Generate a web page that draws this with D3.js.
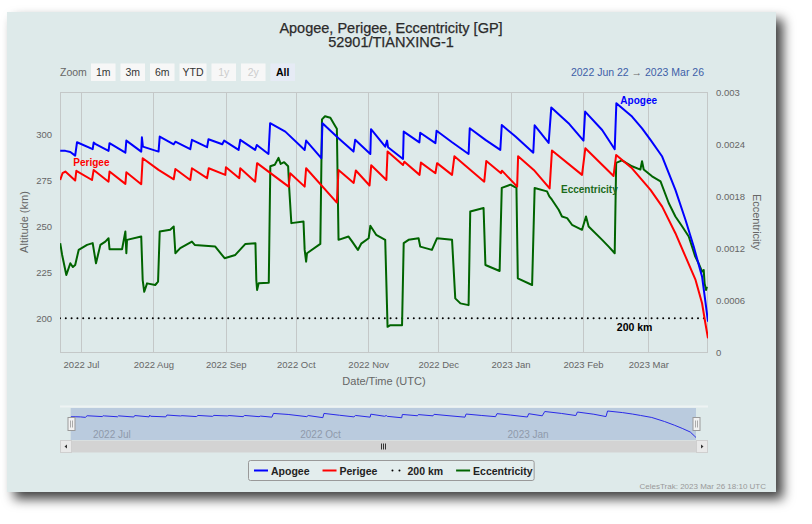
<!DOCTYPE html>
<html>
<head>
<meta charset="utf-8">
<script src="https://cdn.jsdelivr.net/npm/d3@7"></script>
<style>
  body { margin: 0; background: #fff; }
  svg { display: block; font-family: "Liberation Sans", Arial, sans-serif; }
</style>
</head>
<body>
<svg id="chart" width="812" height="524"></svg>
<script>
// ---- data (GP elements, 52901 / TIANXING-1) ----
const titleLines = ["Apogee, Perigee, Eccentricity [GP]", "52901/TIANXING-1"];
const dateRange = ["2022-06-22 00", "2023-03-26 13"];
const zoomButtons = ["1m", "3m", "6m", "YTD", "1y", "2y", "All"];
const disabledButtons = ["1y", "2y"];
const altTicks = [200, 225, 250, 275, 300];
const eccTicks = [0, 0.0006, 0.0012, 0.0018, 0.0024, 0.003];
const limitKm = 200;

// [UTC time "YYYY-MM-DD HH", km]
const apogee = [
  ["2022-06-22 02",291.4],["2022-06-24 07",291.3],["2022-06-26 10",290.7],["2022-06-28 12",288.7],["2022-06-29 07",296.0],
  ["2022-07-06 00",292.2],["2022-07-06 10",295.8],["2022-07-07 02",295.1],["2022-07-12 19",291.3],["2022-07-13 05",295.5],
  ["2022-07-20 00",290.3],["2022-07-20 10",296.9],["2022-07-26 19",290.9],["2022-07-27 02",298.7],["2022-07-27 12",293.6],
  ["2022-08-03 05",290.9],["2022-08-03 17",299.1],["2022-08-09 17",294.9],["2022-08-10 10",296.3],["2022-08-16 19",292.2],
  ["2022-08-17 12",297.3],["2022-08-24 00",293.3],["2022-08-24 14",297.6],["2022-08-30 12",294.9],["2022-08-31 07",296.9],
  ["2022-09-06 12",291.8],["2022-09-07 05",297.3],["2022-09-13 14",291.8],["2022-09-14 07",294.5],["2022-09-19 07",289.6],
  ["2022-09-20 00",306.4],["2022-09-26 12",301.8],["2022-10-04 19",291.8],["2022-10-05 10",296.9],["2022-10-11 22",287.3],
  ["2022-10-12 10",306.4],["2022-10-19 07",298.2],["2022-10-25 17",290.9],["2022-10-26 10",297.3],["2022-11-01 22",289.6],
  ["2022-11-02 05",303.1],["2022-11-08 07",293.6],["2022-11-09 02",296.9],["2022-11-09 12",293.3],["2022-11-15 22",286.9],
  ["2022-11-16 05",301.8],["2022-11-22 22",295.9],["2022-11-23 07",301.2],["2022-11-29 19",295.5],["2022-11-30 07",302.3],
  ["2022-12-06 22",296.0],["2022-12-14 00",289.6],["2022-12-14 12",303.6],["2022-12-21 05",297.3],["2022-12-27 14",291.8],
  ["2022-12-28 05",305.4],["2023-01-03 02",299.1],["2023-01-10 17",290.3],["2023-01-11 07",305.2],["2023-01-17 07",295.6],
  ["2023-01-18 10",315.0],["2023-01-25 19",306.4],["2023-02-01 05",296.9],["2023-02-01 22",312.7],["2023-02-09 05",302.7],
  ["2023-02-14 14",292.2],["2023-02-15 07",317.3],["2023-02-22 00",310.0],["2023-02-26 07",303.6],["2023-03-01 22",297.3],
  ["2023-03-06 22",288.2],["2023-03-12 14",270.0],["2023-03-16 22",253.6],["2023-03-20 10",239.1],["2023-03-24 00",222.7],
  ["2023-03-25 17",206.3],["2023-03-26 13",198.1]
];

const perigee = [
  ["2022-06-22 02",275.4],["2022-06-23 02",279.1],["2022-06-24 07",280.0],["2022-06-28 12",275.1],["2022-06-29 00",280.4],
  ["2022-07-05 17",275.4],["2022-07-06 10",280.9],["2022-07-12 19",274.5],["2022-07-13 05",280.0],["2022-07-20 00",273.3],
  ["2022-07-20 10",279.6],["2022-07-26 19",273.1],["2022-07-27 10",287.3],["2022-08-03 05",280.9],["2022-08-09 17",275.8],
  ["2022-08-10 10",281.4],["2022-08-16 19",275.4],["2022-08-17 12",281.8],["2022-08-24 00",276.4],["2022-08-24 17",281.8],
  ["2022-08-31 19",278.2],["2022-09-01 02",282.4],["2022-09-06 19",276.4],["2022-09-07 05",281.8],["2022-09-13 14",274.5],
  ["2022-09-14 10",284.6],["2022-09-27 22",271.8],["2022-09-28 14",279.1],["2022-10-04 19",271.8],["2022-10-05 10",281.8],
  ["2022-10-18 14",263.1],["2022-10-19 07",280.9],["2022-10-25 19",273.8],["2022-10-26 17",280.6],["2022-11-01 14",272.4],
  ["2022-11-02 07",283.4],["2022-11-08 19",275.4],["2022-11-09 07",290.9],["2022-11-15 22",283.6],["2022-11-16 12",285.4],
  ["2022-11-23 00",278.2],["2022-11-23 14",284.9],["2022-11-29 19",279.1],["2022-11-30 12",284.6],["2022-12-06 22",278.2],
  ["2022-12-07 22",288.3],["2022-12-20 17",274.5],["2022-12-21 14",285.8],["2022-12-27 22",279.1],["2022-12-28 07",280.5],
  ["2023-01-03 19",271.8],["2023-01-04 05",288.3],["2023-01-10 22",280.9],["2023-01-17 17",270.8],["2023-01-18 17",291.5],
  ["2023-01-31 14",278.2],["2023-02-02 00",292.7],["2023-02-14 02",277.6],["2023-02-15 05",289.1],["2023-02-22 00",281.8],
  ["2023-03-01 22",270.0],["2023-03-06 22",260.9],["2023-03-12 14",246.4],["2023-03-16 22",233.6],["2023-03-21 05",220.9],
  ["2023-03-24 00",208.2],["2023-03-25 10",197.3],["2023-03-26 13",189.1]
];

// [UTC time, eccentricity] (right axis)
const eccentricity = [
  ["2022-06-22 02",0.001256],["2022-06-22 22",0.001120],["2022-06-24 17",0.000888],["2022-06-26 10",0.001024],["2022-06-27 12",0.000980],
  ["2022-06-28 12",0.001004],["2022-06-30 00",0.001178],["2022-07-03 14",0.001236],["2022-07-06 00",0.001256],["2022-07-07 10",0.001024],
  ["2022-07-09 07",0.001236],["2022-07-11 10",0.001274],["2022-07-12 19",0.001313],["2022-07-13 05",0.001186],["2022-07-18 14",0.001186],
  ["2022-07-20 00",0.001390],["2022-07-20 10",0.001140],["2022-07-20 17",0.001294],["2022-07-26 19",0.001332],["2022-07-27 10",0.000830],
  ["2022-07-28 02",0.000695],["2022-07-29 07",0.000792],["2022-08-01 19",0.000773],["2022-08-03 00",0.000811],["2022-08-03 17",0.001390],
  ["2022-08-08 05",0.001410],["2022-08-09 17",0.001448],["2022-08-10 10",0.001140],["2022-08-12 12",0.001198],["2022-08-17 12",0.001274],
  ["2022-08-18 17",0.001236],["2022-08-27 12",0.001216],["2022-08-31 12",0.001082],["2022-09-05 02",0.001120],["2022-09-09 10",0.001247],
  ["2022-09-13 17",0.001256],["2022-09-14 02",0.000830],["2022-09-14 10",0.000715],["2022-09-15 02",0.000792],["2022-09-19 10",0.000799],
  ["2022-09-20 02",0.002143],["2022-09-22 00",0.002160],["2022-09-23 14",0.002240],["2022-09-24 12",0.002170],["2022-09-26 00",0.002190],
  ["2022-09-27 17",0.002143],["2022-09-28 05",0.001873],["2022-09-29 02",0.001487],["2022-10-04 07",0.001506],["2022-10-04 19",0.001178],
  ["2022-10-05 10",0.001042],["2022-10-05 19",0.001140],["2022-10-11 12",0.001247],["2022-10-12 05",0.002684],["2022-10-13 12",0.002720],
  ["2022-10-15 19",0.002703],["2022-10-17 22",0.002606],["2022-10-18 14",0.002576],["2022-10-19 07",0.001294],["2022-10-23 14",0.001332],
  ["2022-10-25 00",0.001280],["2022-10-27 14",0.001178],["2022-10-29 00",0.001250],["2022-11-01 05",0.001313],["2022-11-01 22",0.001456],
  ["2022-11-04 10",0.001352],["2022-11-08 07",0.001294],["2022-11-09 07",0.000290],["2022-11-10 12",0.000309],["2022-11-15 12",0.000309],
  ["2022-11-16 05",0.001256],["2022-11-18 07",0.001294],["2022-11-22 14",0.001313],["2022-11-23 07",0.001216],["2022-11-28 07",0.001178],
  ["2022-11-30 12",0.001313],["2022-12-06 22",0.001294],["2022-12-08 07",0.000619],["2022-12-10 12",0.000561],["2022-12-14 00",0.000541],
  ["2022-12-14 17",0.001622],["2022-12-20 10",0.001661],["2022-12-21 05",0.001004],["2022-12-27 07",0.000935],["2022-12-28 05",0.001893],
  ["2022-12-31 22",0.001931],["2023-01-03 12",0.001893],["2023-01-04 02",0.000850],["2023-01-10 05",0.000773],["2023-01-11 07",0.001893],
  ["2023-01-16 14",0.001853],["2023-01-17 14",0.001795],["2023-01-18 17",0.001757],["2023-01-21 14",0.001641],["2023-01-23 00",0.001564],
  ["2023-01-25 05",0.001545],["2023-01-27 07",0.001468],["2023-01-31 14",0.001410],["2023-02-02 07",0.001564],["2023-02-03 10",0.001448],
  ["2023-02-09 05",0.001294],["2023-02-12 00",0.001216],["2023-02-14 14",0.001140],["2023-02-15 05",0.002182],["2023-02-17 17",0.002212],
  ["2023-02-22 00",0.002143],["2023-02-25 14",0.002105],["2023-02-26 07",0.002201],["2023-02-27 00",0.002105],["2023-03-02 14",0.002027],
  ["2023-03-06 05",0.001969],["2023-03-09 17",0.001719],["2023-03-12 14",0.001564],["2023-03-15 12",0.001448],["2023-03-18 07",0.001332],
  ["2023-03-19 17",0.001216],["2023-03-21 02",0.001100],["2023-03-22 12",0.001024],["2023-03-24 00",0.000927],["2023-03-24 17",0.000946],
  ["2023-03-25 02",0.000792],["2023-03-25 17",0.000715],["2023-03-26 02",0.000753]
];

const limitLine = [["2022-06-22 00", limitKm], ["2023-03-25 12", limitKm]];

// series label anchors [time, value]
const labelApogee = ["2023-02-17 00", 316.9];
const labelPerigee = ["2022-06-27 17", 283.3];
const labelEcc = ["2023-01-22 14", 0.001835];
const labelLimit = ["2023-02-15 12", 193.1];

const footer = "CelesTrak: 2023 Mar 26 18:10 UTC";

// ---- setup ----
const parseTime = d3.utcParse("%Y-%m-%d %H");
const toPoints = arr => arr.map(([t, v]) => ({ date: parseTime(t), value: v }));

const apoPts = toPoints(apogee);
const periPts = toPoints(perigee);
const eccPts = toPoints(eccentricity);
const limitPts = toPoints(limitLine);

const colors = { apogee: "#0000ff", perigee: "#ff0000", ecc: "#006400", limit: "#000" };
const plot = { left: 60, right: 708, top: 92, bottom: 352 };
const bg = "#deeaea";

const svg = d3.select("#chart");

const defs = svg.append("defs");
const shadow = defs.append("filter").attr("id", "shadow")
  .attr("x", "-5%").attr("y", "-5%").attr("width", "115%").attr("height", "120%");
shadow.append("feDropShadow")
  .attr("dx", 7).attr("dy", 7).attr("stdDeviation", 6)
  .attr("flood-color", "#000").attr("flood-opacity", 0.75);
defs.append("clipPath").attr("id", "plot-clip")
  .append("rect")
  .attr("x", plot.left).attr("y", plot.top)
  .attr("width", plot.right - plot.left).attr("height", plot.bottom - plot.top);

// card
svg.append("rect")
  .attr("x", 7).attr("y", 12).attr("width", 769).attr("height", 480)
  .attr("fill", bg).attr("filter", "url(#shadow)");

// title
svg.append("text")
  .attr("x", 391).attr("y", 32.5)
  .attr("text-anchor", "middle")
  .style("font-size", "14.5px").attr("fill", "#2b2b2b")
  .attr("stroke", "#2b2b2b").attr("stroke-width", 0.25)
  .selectAll("tspan").data(titleLines).join("tspan")
  .attr("x", 391).attr("dy", (d, i) => i === 0 ? 0 : 14.7)
  .text(d => d);

// range selector buttons
svg.append("text")
  .attr("x", 60).attr("y", 76)
  .style("font-size", "10.5px").attr("fill", "#666")
  .text("Zoom");

const btnWidths = zoomButtons.map(b => b === "YTD" ? 27 : 24.5);
let bx = 91;
zoomButtons.forEach((b, i) => {
  const w = btnWidths[i];
  const selected = b === "All";
  const disabled = disabledButtons.includes(b);
  svg.append("rect")
    .attr("x", bx).attr("y", 63.5).attr("width", w).attr("height", 17.5)
    .attr("fill", selected ? "#e6ebf5" : "#f7f7f7");
  svg.append("text")
    .attr("x", bx + w / 2).attr("y", 76)
    .attr("text-anchor", "middle")
    .style("font-size", "10.5px")
    .style("font-weight", selected ? "bold" : "normal")
    .attr("fill", disabled ? "#cccccc" : selected ? "#000" : "#333")
    .text(b);
  bx += w + 5;
});

const fmtRange = d3.utcFormat("%Y %b %d");
const rangeText = svg.append("text")
  .attr("x", 704).attr("y", 76)
  .attr("text-anchor", "end")
  .style("font-size", "10.5px");
rangeText.append("tspan").attr("fill", "#3d5fa8").text(fmtRange(parseTime(dateRange[0])));
rangeText.append("tspan").attr("fill", "#666").text("  \u2192  ");
rangeText.append("tspan").attr("fill", "#3d5fa8").text(fmtRange(parseTime(dateRange[1])));

// scales
const x = d3.scaleUtc()
  .domain([parseTime(dateRange[0]), parseTime(dateRange[1])])
  .range([plot.left, plot.right]);
const yAlt = d3.scaleLinear().domain([181.6, 323.4]).range([plot.bottom, plot.top]);
const yEcc = d3.scaleLinear().domain([0, 0.003]).range([plot.bottom, plot.top]);

const monthTicks = d3.utcMonth.range(d3.utcMonth.ceil(x.domain()[0]), x.domain()[1]);

// grid + border
svg.append("g")
  .selectAll("line").data(monthTicks).join("line")
  .attr("x1", d => Math.round(x(d)) + 0.5).attr("x2", d => Math.round(x(d)) + 0.5)
  .attr("y1", plot.top).attr("y2", plot.bottom)
  .attr("stroke", "#c4c8c8").attr("stroke-width", 1);
svg.append("rect")
  .attr("x", plot.left + 0.5).attr("y", plot.top + 0.5)
  .attr("width", plot.right - plot.left - 1).attr("height", plot.bottom - plot.top)
  .attr("fill", "none").attr("stroke", "#c4c8c8");

// axes
const styleAxis = g => {
  g.select(".domain").remove();
  g.selectAll("text").style("font-size", "9.5px").attr("fill", "#666")
    .style("font-family", "\"Liberation Sans\", Arial, sans-serif");
};

svg.append("g")
  .attr("transform", `translate(0,${plot.bottom})`)
  .call(d3.axisBottom(x).tickValues(monthTicks).tickFormat(d3.utcFormat("%Y %b")).tickSize(0).tickPadding(9))
  .call(styleAxis);

svg.append("g")
  .attr("transform", `translate(${plot.left},0)`)
  .call(d3.axisLeft(yAlt).tickValues(altTicks).tickSize(0).tickPadding(8))
  .call(styleAxis);

svg.append("g")
  .attr("transform", `translate(${plot.right},0)`)
  .call(d3.axisRight(yEcc).tickValues(eccTicks)
    .tickFormat(d => d === 0 ? "0" : d3.format(".4~f")(d)).tickSize(0).tickPadding(8))
  .call(styleAxis);

// axis titles
svg.append("text")
  .attr("transform", `translate(28,${(plot.top + plot.bottom) / 2}) rotate(-90)`)
  .attr("text-anchor", "middle")
  .style("font-size", "11px").attr("fill", "#666")
  .text("Altitude (km)");
svg.append("text")
  .attr("transform", `translate(753,${(plot.top + plot.bottom) / 2}) rotate(90)`)
  .attr("text-anchor", "middle")
  .style("font-size", "11px").attr("fill", "#666")
  .text("Eccentricity");
svg.append("text")
  .attr("x", (plot.left + plot.right) / 2).attr("y", 385)
  .attr("text-anchor", "middle")
  .style("font-size", "11px").attr("fill", "#666")
  .text("Date/Time (UTC)");

// series
const lineAlt = d3.line().x(d => x(d.date)).y(d => yAlt(d.value));
const lineEcc = d3.line().x(d => x(d.date)).y(d => yEcc(d.value));

const series = svg.append("g").attr("clip-path", "url(#plot-clip)");

series.append("path")
  .datum(limitPts)
  .attr("d", lineAlt)
  .attr("fill", "none").attr("stroke", colors.limit)
  .attr("stroke-width", 2).attr("stroke-linecap", "round")
  .attr("stroke-dasharray", "0,5.8");

series.append("path")
  .datum(eccPts)
  .attr("d", lineEcc)
  .attr("fill", "none").attr("stroke", colors.ecc)
  .attr("stroke-width", 2).attr("stroke-linejoin", "round");

series.append("path")
  .datum(periPts)
  .attr("d", lineAlt)
  .attr("fill", "none").attr("stroke", colors.perigee)
  .attr("stroke-width", 2).attr("stroke-linejoin", "round");

series.append("path")
  .datum(apoPts)
  .attr("d", lineAlt)
  .attr("fill", "none").attr("stroke", colors.apogee)
  .attr("stroke-width", 2).attr("stroke-linejoin", "round");

// series labels
const addLabel = (anchor, yScale, text, color, size) => {
  svg.append("text")
    .attr("x", x(parseTime(anchor[0]))).attr("y", yScale(anchor[1]))
    .style("font-size", size).style("font-weight", "bold")
    .attr("fill", color).text(text);
};
addLabel(labelApogee, yAlt, "Apogee", colors.apogee, "10px");
addLabel(labelPerigee, yAlt, "Perigee", colors.perigee, "10px");
addLabel(labelEcc, yEcc, "Eccentricity", "#1b6a1b", "10px");
addLabel(labelLimit, yAlt, limitKm + " km", "#000", "10.5px");

// navigator
const nav = { left: 70.7, right: 696, top: 408, bottom: 440 };
const xNav = d3.scaleUtc().domain(x.domain()).range([nav.left, nav.right]);
const yNav = d3.scaleLinear().domain(d3.extent(apoPts, d => d.value)).range([437.5, 411]);

svg.append("line")
  .attr("x1", plot.left).attr("x2", plot.right)
  .attr("y1", nav.top - 1.5).attr("y2", nav.top - 1.5)
  .attr("stroke", "#eef3f3").attr("stroke-width", 2);

svg.append("rect")
  .attr("x", nav.left).attr("y", nav.top)
  .attr("width", nav.right - nav.left).attr("height", nav.bottom - nav.top)
  .attr("fill", "rgba(102,133,194,0.3)");

const navTicks = d3.utcMonth.every(3).range(d3.utcMonth.ceil(xNav.domain()[0]), xNav.domain()[1]);
svg.append("g")
  .selectAll("text").data(navTicks).join("text")
  .attr("x", d => xNav(d) + 2).attr("y", 437.5)
  .style("font-size", "10px").attr("fill", "#8f9aab")
  .text(d3.utcFormat("%Y %b"));

svg.append("path")
  .datum(apoPts)
  .attr("d", d3.line().x(d => xNav(d.date)).y(d => yNav(d.value)))
  .attr("fill", "none").attr("stroke", "#2a2ae8").attr("stroke-width", 1);

[nav.left, nav.right].forEach(hx => {
  const cx = Math.round(hx) + 0.5;
  svg.append("rect")
    .attr("x", cx - 3.5).attr("y", 417.5).attr("width", 7).attr("height", 13)
    .attr("fill", "#f2f2f2").attr("stroke", "#999").attr("stroke-width", 1);
  [-1, 1].forEach(o => svg.append("line")
    .attr("x1", cx + o).attr("x2", cx + o).attr("y1", 420.5).attr("y2", 427.5)
    .attr("stroke", "#aaa").attr("stroke-width", 1));
});

// scrollbar
svg.append("rect")
  .attr("x", plot.left).attr("y", 440.5).attr("width", plot.right - plot.left).attr("height", 12)
  .attr("fill", "#d3d3d3");
[[plot.left, "left"], [nav.right, "right"]].forEach(([ax, dir]) => {
  svg.append("rect")
    .attr("x", ax + 0.5).attr("y", 440.5).attr("width", 11).attr("height", 12)
    .attr("fill", "#e9e9e9").attr("stroke", "#cfcfcf");
  const cx = ax + 6, cy = 446.5;
  const pts = dir === "left"
    ? [[cx + 1, cy - 2], [cx + 1, cy + 2], [cx - 1.5, cy]]
    : [[cx - 1, cy - 2], [cx - 1, cy + 2], [cx + 1.5, cy]];
  svg.append("path").attr("d", "M" + pts.join("L") + "Z").attr("fill", "#333");
});
const gripX = Math.round((nav.left + nav.right) / 2);
[-2, 0, 2].forEach(o => svg.append("line")
  .attr("x1", gripX + o + 0.5).attr("x2", gripX + o + 0.5)
  .attr("y1", 443.5).attr("y2", 449.5)
  .attr("stroke", "#333").attr("stroke-width", 1));

// legend
const legendItems = [
  { name: "Apogee", color: colors.apogee, dots: false },
  { name: "Perigee", color: colors.perigee, dots: false },
  { name: limitKm + " km", color: colors.limit, dots: true },
  { name: "Eccentricity", color: colors.ecc, dots: false }
];
const legend = svg.append("g");
const legendBox = legend.append("rect")
  .attr("y", 460.5).attr("height", 20).attr("rx", 2)
  .attr("fill", "#e3eded").attr("stroke", "#999");
const itemGap = 13;
let lx = 254;
legendItems.forEach(item => {
  const sym = legend.append("line")
    .attr("x1", lx).attr("x2", lx + 14).attr("y1", 470.5).attr("y2", 470.5)
    .attr("stroke", item.color).attr("stroke-width", 2);
  if (item.dots) {
    sym.attr("x1", lx + 2).attr("x2", lx + 10)
      .attr("stroke-linecap", "round").attr("stroke-dasharray", "0,7");
  }
  const t = legend.append("text")
    .attr("x", lx + 17).attr("y", 474.5)
    .style("font-size", "10.5px").style("font-weight", "bold")
    .attr("fill", "#222").text(item.name);
  lx += 17 + t.node().getComputedTextLength() + itemGap;
});
legendBox.attr("x", 248.5).attr("width", lx - itemGap + 1.5 - 248.5);

// footer
svg.append("text")
  .attr("x", 766).attr("y", 489)
  .attr("text-anchor", "end")
  .style("font-size", "8px").attr("fill", "#999")
  .text(footer);
</script>
</body>
</html>
